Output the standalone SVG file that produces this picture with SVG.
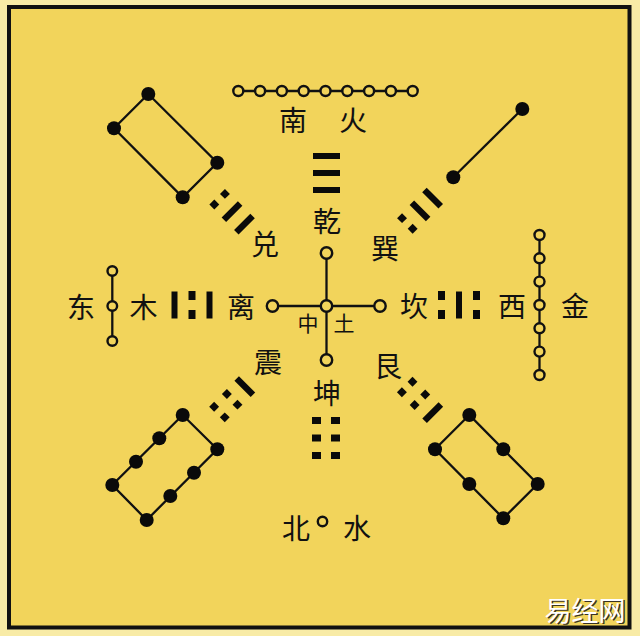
<svg xmlns="http://www.w3.org/2000/svg" xmlns:xlink="http://www.w3.org/1999/xlink" width="640" height="636" viewBox="0 0 640 636">
<style>
  .t{font-family:"Noto Sans CJK SC","Noto Sans",sans-serif;font-size:28px;fill:#111;text-anchor:middle;dominant-baseline:central}
  .ts{font-size:21px}
  .ln{stroke:#111;stroke-width:2.3;fill:none}
  .oc{fill:#F2D45B;stroke:#111;stroke-width:2.4}
  .dot{fill:#0a0a0a}
  .y{fill:#0a0a0a}
  .wm{font-family:"Noto Sans CJK SC",sans-serif;font-size:27px;text-anchor:middle;dominant-baseline:central}
</style>
<defs>
  <rect id="s" class="y" x="-13.5" y="-3" width="27" height="6"/>
  <g id="b" class="y"><rect x="-14" y="-3.5" width="9" height="7"/><rect x="5" y="-3.5" width="9" height="7"/></g>
  <rect id="sd" class="y" x="-11.5" y="-3.2" width="23" height="6.4"/>
  <g id="bd" class="y"><rect x="-11" y="-3.4" width="7" height="7"/><rect x="4" y="-3.4" width="7" height="7"/></g>
</defs>
<rect x="0" y="0" width="640" height="636" fill="#F8EBA6"/>
<rect x="9" y="7" width="620.5" height="620.5" fill="#F2D45B" stroke="#111" stroke-width="4"/>

<g id="connectors">
  <line class="ln" x1="238.3" y1="91" x2="412.7" y2="91"/>
  <line class="ln" x1="112.3" y1="271" x2="112.3" y2="341"/>
  <line class="ln" x1="539.5" y1="235" x2="539.5" y2="375"/>
  <line class="ln" x1="326.5" y1="253" x2="326.5" y2="360"/>
  <line class="ln" x1="272.5" y1="306" x2="380" y2="306"/>
  <polygon class="ln" points="148.3,94 114,128.3 182.7,197.3 217.3,162.7"/>
  <line class="ln" x1="522.3" y1="109" x2="453.3" y2="177.3"/>
  <polygon class="ln" points="182.7,415 112.3,485 146.7,520 217.3,449.3"/>
  <polygon class="ln" points="469.3,415 435,449.3 503.3,518.3 537.7,484"/>
</g>

<g id="south-fire">
  <g>
    <circle class="oc" cx="238.3" cy="91" r="5"/><circle class="oc" cx="260.1" cy="91" r="5"/><circle class="oc" cx="281.9" cy="91" r="5"/>
    <circle class="oc" cx="303.7" cy="91" r="5"/><circle class="oc" cx="325.5" cy="91" r="5"/><circle class="oc" cx="347.3" cy="91" r="5"/>
    <circle class="oc" cx="369.1" cy="91" r="5"/><circle class="oc" cx="390.9" cy="91" r="5"/><circle class="oc" cx="412.7" cy="91" r="5"/>
  </g>
  <text class="t" x="293" y="119">南</text>
  <text class="t" x="353" y="119">火</text>
</g>

<g id="east-wood">
  <circle class="oc" cx="112.3" cy="271" r="4.8"/><circle class="oc" cx="112.3" cy="306" r="4.8"/><circle class="oc" cx="112.3" cy="341" r="4.8"/>
  <text class="t" x="81" y="306">东</text>
  <text class="t" x="143.5" y="306">木</text>
</g>

<g id="west-metal">
  <circle class="oc" cx="539.5" cy="235" r="5"/><circle class="oc" cx="539.5" cy="258.3" r="5"/><circle class="oc" cx="539.5" cy="281.6" r="5"/>
  <circle class="oc" cx="539.5" cy="305" r="5"/><circle class="oc" cx="539.5" cy="328.3" r="5"/><circle class="oc" cx="539.5" cy="351.6" r="5"/>
  <circle class="oc" cx="539.5" cy="375" r="5"/>
  <text class="t" x="512" y="305">西</text>
  <text class="t" x="575" y="305">金</text>
</g>

<g id="north-water">
  <circle class="oc" cx="322.5" cy="521.5" r="4.7"/>
  <text class="t" x="296" y="527">北</text>
  <text class="t" x="357" y="527">水</text>
</g>

<g id="center-earth">
  <circle class="oc" cx="326.5" cy="253" r="5.7"/>
  <circle class="oc" cx="272.5" cy="306" r="5.7"/>
  <circle class="oc" cx="326.5" cy="306" r="5.7"/>
  <circle class="oc" cx="380" cy="306" r="5.7"/>
  <circle class="oc" cx="326.5" cy="360" r="5.7"/>
  <text class="t ts" x="308" y="322">中</text>
  <text class="t ts" x="344" y="322">土</text>
</g>

<g id="nw-dots">
  <circle class="dot" cx="148.3" cy="94" r="7"/><circle class="dot" cx="114" cy="128.3" r="7"/>
  <circle class="dot" cx="182.7" cy="197.3" r="7"/><circle class="dot" cx="217.3" cy="162.7" r="7"/>
</g>
<g id="ne-dots">
  <circle class="dot" cx="522.3" cy="109" r="7"/><circle class="dot" cx="453.3" cy="177.3" r="7"/>
</g>
<g id="sw-dots">
  <circle class="dot" cx="182.7" cy="415" r="7"/><circle class="dot" cx="159.3" cy="438.3" r="7"/>
  <circle class="dot" cx="136" cy="461.7" r="7"/><circle class="dot" cx="112.3" cy="485" r="7"/>
  <circle class="dot" cx="146.7" cy="520" r="7"/><circle class="dot" cx="170.3" cy="496" r="7"/>
  <circle class="dot" cx="194" cy="472.7" r="7"/><circle class="dot" cx="217.3" cy="449.3" r="7"/>
</g>
<g id="se-dots">
  <circle class="dot" cx="469.3" cy="415" r="7"/><circle class="dot" cx="435" cy="449.3" r="7"/>
  <circle class="dot" cx="503.3" cy="449.3" r="7"/><circle class="dot" cx="469.3" cy="484" r="7"/>
  <circle class="dot" cx="537.7" cy="484" r="7"/><circle class="dot" cx="503.3" cy="518.3" r="7"/>
</g>

<g id="qian">
  <g transform="translate(326.5,173)"><use href="#s" y="-17"/><use href="#s" y="0"/><use href="#s" y="17"/></g>
  <text class="t" x="327" y="220">乾</text>
</g>
<g id="kun">
  <g transform="translate(326,438) rotate(180)"><use href="#b" y="-17.5"/><use href="#b" y="0"/><use href="#b" y="17.5"/></g>
  <text class="t" x="327" y="392">坤</text>
</g>
<g id="li">
  <g transform="translate(192,305) rotate(-90)"><use href="#s" y="-17.5"/><use href="#b" y="0"/><use href="#s" y="17.5"/></g>
  <text class="t" x="241" y="306">离</text>
</g>
<g id="kan">
  <g transform="translate(459,305) rotate(90)"><use href="#b" y="-17.5"/><use href="#s" y="0"/><use href="#b" y="17.5"/></g>
  <text class="t" x="414" y="305">坎</text>
</g>
<g id="dui">
  <g transform="translate(232,211.6) rotate(-45)"><use href="#bd" y="-17.6"/><use href="#sd" y="0"/><use href="#sd" y="17.6"/></g>
  <text class="t" x="265" y="243">兑</text>
</g>
<g id="xun">
  <g transform="translate(420,210.8) rotate(45)"><use href="#sd" y="-17.8"/><use href="#sd" y="0"/><use href="#bd" y="17.8"/></g>
  <text class="t" x="385" y="247">巽</text>
</g>
<g id="zhen">
  <g transform="translate(232.1,399.4) rotate(-135)"><use href="#bd" y="-18"/><use href="#bd" y="0"/><use href="#sd" y="18"/></g>
  <text class="t" x="268" y="361">震</text>
</g>
<g id="gen">
  <g transform="translate(420,399.8) rotate(135)"><use href="#sd" y="-18"/><use href="#bd" y="0"/><use href="#bd" y="18"/></g>
  <text class="t" x="388" y="365">艮</text>
</g>

<g id="watermark">
  <text class="wm" x="586.5" y="610.5" fill="#3a3320">易经网</text>
  <text class="wm" x="585" y="609" fill="#ffffff">易经网</text>
</g>
</svg>
